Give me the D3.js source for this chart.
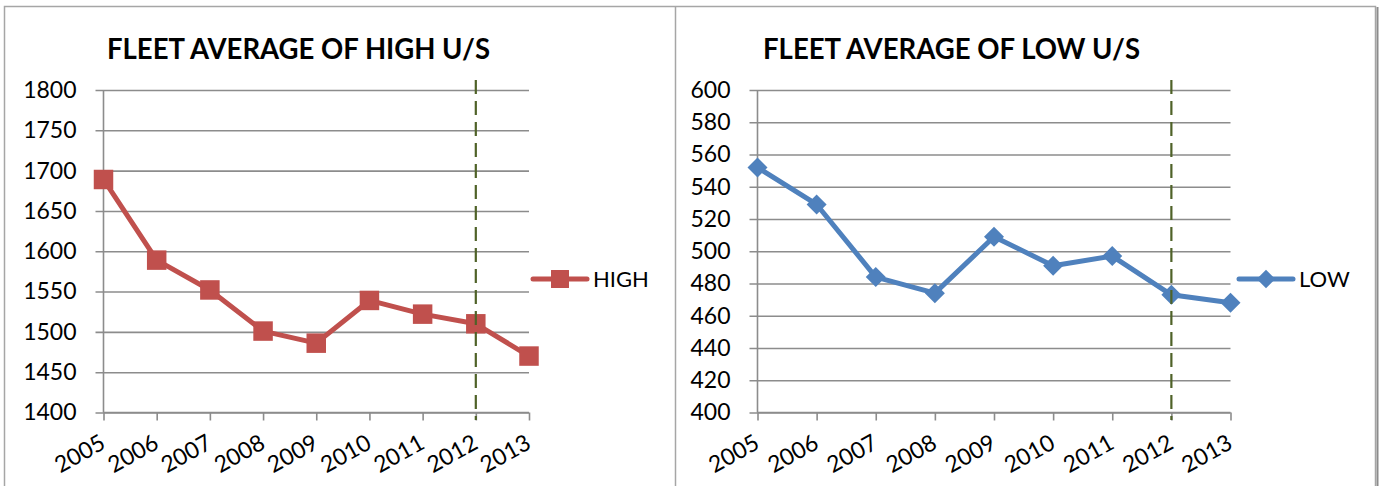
<!DOCTYPE html>
<html><head><meta charset="utf-8">
<script src="https://cdn.jsdelivr.net/npm/d3@7/dist/d3.min.js"></script>
<style>
html,body{margin:0;padding:0;background:#fff;}
svg{display:block;}
text{font-family:Lato,"Open Sans",sans-serif;fill:#000;}
</style></head>
<body><svg id="c" width="1382" height="486"></svg>
<script>
const years = ["2005","2006","2007","2008","2009","2010","2011","2012","2013"];
const highValues = [1689, 1589, 1552, 1501, 1486, 1539, 1522, 1510, 1470];
const lowValues = [552, 529, 484, 474, 509, 491, 497, 473, 468];
const highTicks = [1400,1450,1500,1550,1600,1650,1700,1750,1800];
const lowTicks = [400,420,440,460,480,500,520,540,560,580,600];
const markerYear = "2012";

const svg = d3.select("#c");

// panel borders
svg.append("rect").attr("x",4.5).attr("y",6.5).attr("width",1371).attr("height",490)
  .attr("fill","none").attr("stroke","#a6a6a6").attr("stroke-width",1.5);
svg.append("line").attr("x1",1377.5).attr("x2",1377.5).attr("y1",7).attr("y2",486)
  .attr("stroke","#8c8c8c").attr("stroke-width",2);
svg.append("line").attr("x1",675.5).attr("x2",675.5).attr("y1",6).attr("y2",486)
  .attr("stroke","#a6a6a6").attr("stroke-width",1.5);

function panel(opt){
  const g = svg.append("g");
  const x = d3.scalePoint().domain(years).range([opt.x0, opt.x1]);
  const y = d3.scaleLinear().domain(opt.domain).range([412.5, 90]);

  // title
  g.append("text").attr("x",opt.tx).attr("y",59).text(opt.title)
    .attr("font-weight","bold").attr("font-size",28)
    .attr("textLength",opt.tw).attr("lengthAdjust","spacingAndGlyphs");

  // gridlines + y axis
  const ya = d3.axisLeft(y).tickValues(opt.ticks).tickSize(8).tickPadding(19)
    .tickFormat(d3.format("d"));
  const yg = g.append("g").attr("transform",`translate(${opt.x0},0)`).call(ya);
  yg.select(".domain").remove();
  yg.selectAll(".tick line").attr("x1",-8).attr("x2",opt.x1-opt.x0)
    .attr("stroke","#8c8c8c").attr("stroke-width",1.6);
  yg.selectAll(".tick text").attr("font-size",23).attr("font-family","Lato").attr("fill","#000");

  // y axis line
  g.append("line").attr("x1",opt.x0).attr("x2",opt.x0).attr("y1",90).attr("y2",412.5)
    .attr("stroke","#8c8c8c").attr("stroke-width",1.6);

  // x axis
  const xa = d3.axisBottom(x).tickSize(8).tickPadding(6);
  const xg = g.append("g").attr("transform","translate(0,412.5)").call(xa);
  xg.select(".domain").attr("d",`M${opt.x0},0H${opt.x1}`).attr("stroke","#8c8c8c").attr("stroke-width",1.6);
  xg.selectAll(".tick line").attr("stroke","#8c8c8c").attr("stroke-width",1.6);
  xg.selectAll(".tick text").attr("font-size",23).attr("font-family","Lato").attr("fill","#000")
    .attr("text-anchor","end").attr("dy",null).attr("y",null)
    .attr("transform","translate(3,35) rotate(-29)");

  // series
  const line = d3.line().x((d,i)=>x(years[i])).y(d=>y(d));
  g.append("path").datum(opt.values).attr("d",line).attr("fill","none")
    .attr("stroke",opt.color).attr("stroke-width",5).attr("stroke-linejoin","round");
  const sym = d3.symbol().type(opt.symbol).size(opt.symSize);
  g.selectAll(".m").data(opt.values).join("path")
    .attr("transform",(d,i)=>`translate(${x(years[i])},${y(d)})${opt.rot}`)
    .attr("d",sym).attr("fill",opt.color);

  // dashed marker line (drawn over the series)
  g.append("line").attr("x1",x(markerYear)).attr("x2",x(markerYear)).attr("y1",80).attr("y2",420)
    .attr("stroke","#4f6228").attr("stroke-width",2.2).attr("stroke-dasharray","14,7");

  // legend
  const ly = 279;
  g.append("line").attr("x1",opt.lx).attr("x2",opt.lx+54).attr("y1",ly).attr("y2",ly)
    .attr("stroke",opt.color).attr("stroke-width",5).attr("stroke-linecap","round");
  g.append("path").attr("transform",`translate(${opt.lx+27},${ly})${opt.rot}`)
    .attr("d",d3.symbol().type(opt.symbol).size(opt.symSize*0.85)).attr("fill",opt.color);
  g.append("text").attr("x",opt.lx+60).attr("y",ly+8).attr("font-size",22).text(opt.name);
}

panel({x0:103.5, x1:529, domain:[1400,1800], ticks:highTicks, values:highValues,
  color:"#c0504d", symbol:d3.symbolSquare, symSize:380, rot:"",
  title:"FLEET AVERAGE OF HIGH U/S", tx:107, tw:383, lx:533, name:"HIGH"});
panel({x0:757.5, x1:1230.5, domain:[400,600], ticks:lowTicks, values:lowValues,
  color:"#4f81bd", symbol:d3.symbolSquare, symSize:200, rot:" rotate(45)",
  title:"FLEET AVERAGE OF LOW U/S", tx:763, tw:377, lx:1239, name:"LOW"});
</script></body></html>
